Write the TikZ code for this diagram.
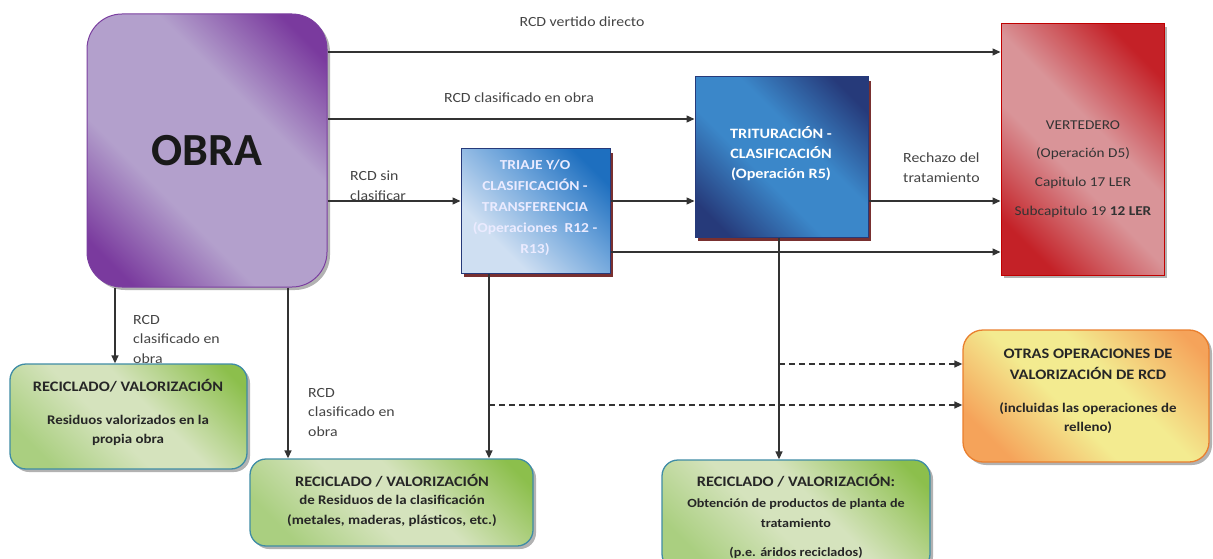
\documentclass[tikz,border=0pt]{standalone}
\usepackage{fontspec}
\setmainfont{Carlito}[FakeStretch=1.13]
\newfontfamily\obrafont{Carlito}
\usetikzlibrary{arrows.meta,shadows,calc}
\definecolor{ln}{HTML}{333333}
\definecolor{pD}{HTML}{7A3A9E}
\definecolor{pL}{HTML}{B3A0CC}
\definecolor{pB}{HTML}{7B3FA0}
\definecolor{tL}{HTML}{CFDFF2}
\definecolor{tM}{HTML}{6FA5DB}
\definecolor{tD}{HTML}{1E6FBF}
\definecolor{nD}{HTML}{263A7A}
\definecolor{nM}{HTML}{3B87C9}
\definecolor{rD}{HTML}{C42127}
\definecolor{rL}{HTML}{D99498}
\definecolor{rB}{HTML}{C00000}
\definecolor{gD}{HTML}{8CBF4C}
\definecolor{gM}{HTML}{AACF80}
\definecolor{gL}{HTML}{D5E3BD}
\definecolor{gB}{HTML}{3F8CA5}
\definecolor{oD}{HTML}{F5A35A}
\definecolor{oL}{HTML}{F3EB90}
\definecolor{oB}{HTML}{E97F2E}
\definecolor{shR}{HTML}{6A1A1A}
\definecolor{txt}{HTML}{444444}
\pgfdeclarehorizontalshading{shP}{100bp}{color(0bp)=(pD); color(21bp)=(pD); color(38bp)=(pL); color(62bp)=(pL); color(79bp)=(pD); color(100bp)=(pD)}
\pgfdeclarehorizontalshading{shT}{100bp}{color(0bp)=(tL); color(32bp)=(tL); color(56bp)=(tM); color(76bp)=(tD); color(100bp)=(tD)}
\pgfdeclarehorizontalshading{shN}{100bp}{color(0bp)=(nD); color(22bp)=(nD); color(42bp)=(nM); color(58bp)=(nM); color(78bp)=(nD); color(100bp)=(nD)}
\pgfdeclarehorizontalshading{shR}{100bp}{color(0bp)=(rD); color(24bp)=(rD); color(44bp)=(rL); color(56bp)=(rL); color(76bp)=(rD); color(100bp)=(rD)}
\pgfdeclarehorizontalshading{shG}{100bp}{color(0bp)=(gM); color(24bp)=(gM); color(44bp)=(gL); color(56bp)=(gL); color(80bp)=(gD); color(100bp)=(gD)}
\pgfdeclarehorizontalshading{shO}{100bp}{color(0bp)=(oD); color(24bp)=(oD); color(44bp)=(oL); color(58bp)=(oL); color(80bp)=(oD); color(100bp)=(oD)}
\begin{document}
\begin{tikzpicture}[x=1pt,y=-1pt,
  lbl/.style={font=\fontsize{14}{20}\selectfont, text=txt, align=left, inner sep=0pt},
  btxt/.style={font=\bfseries\fontsize{14.5}{20}\selectfont, text=black!85, align=center, inner sep=0pt},
  bsmall/.style={font=\bfseries\fontsize{13.2}{19}\selectfont, text=black!85, align=center, inner sep=0pt},
  wtxt/.style={font=\bfseries\fontsize{14.3}{20}\selectfont, text=white, align=center, inner sep=0pt},
  conn/.style={draw=ln, line width=1.4pt, -{Triangle[length=8pt,width=7pt]}},
  dconn/.style={conn, dash pattern=on 6pt off 4pt},
  box/.style={inner sep=0pt, line width=1pt, shading angle=45},
  gshadow/.style={drop shadow={shadow xshift=3pt, shadow yshift=-3pt, fill=black, opacity=0.3}},
  rshadow/.style={drop shadow={shadow xshift=3pt, shadow yshift=-4pt, fill=shR, opacity=0.9}},
  obrabox/.style={box, draw=pB, rounded corners=35pt, shading=shP, gshadow},
  triajebox/.style={box, draw=nD, shading=shT, rshadow},
  tritbox/.style={box, draw=nD, shading=shN, rshadow},
  vertbox/.style={box, draw=rB, shading=shR, gshadow},
  greenbox/.style={box, draw=gB, line width=1.3pt, rounded corners=16pt, shading=shG, gshadow},
  otrasbox/.style={box, draw=oB, line width=1.3pt, rounded corners=20pt, shading=shO, gshadow}
]
\useasboundingbox (0,0) rectangle (1213,559);
\clip (0,0) rectangle (1213,559);

% boxes
\node[obrabox, minimum width=240pt, minimum height=273pt, font=\obrafont\bfseries\fontsize{46}{50}\selectfont, text=black!90] (obra) at (207,150.5) {OBRA};
\node[triajebox, minimum width=149pt, minimum height=124pt] (triaje) at (535.5,211) {};
\node[tritbox, minimum width=173pt, minimum height=160pt] (trit) at (781.5,157) {};
\node[vertbox, minimum width=163pt, minimum height=251pt] (vert) at (1082.5,149.5) {};
\node[otrasbox, minimum width=246pt, minimum height=132pt] (otras) at (1086,396) {};
\node[greenbox, minimum width=237pt, minimum height=105pt] (rec1) at (128.5,416.5) {};
\node[greenbox, minimum width=283pt, minimum height=87pt] (rec2) at (391.5,502.5) {};
\node[greenbox, minimum width=268pt, minimum height=110pt] (rec3) at (796,515) {};

% box texts
\node[wtxt, font=\bfseries\fontsize{13.7}{21}\selectfont, text=white!92!blue] (triajeT) at (535,208) {TRIAJE Y/O\\CLASIFICACIÓN -\\TRANSFERENCIA\\(Operaciones~~R12 -\\R13)};
\node[wtxt] (tritT) at (781,154) {TRITURACIÓN -\\CLASIFICACIÓN\\(Operación R5)};
\node[font=\fontsize{13.5}{28.7}\selectfont, text=black!80, align=center, inner sep=0pt] (vertT) at (1083,169) {VERTEDERO\\(Operación D5)\\Capitulo 17 LER\\Subcapitulo 19 \textbf{12 LER}};
\node[btxt, font=\bfseries\fontsize{14.5}{21}\selectfont] (otrasT1) at (1088,364.5) {OTRAS OPERACIONES DE\\VALORIZACIÓN DE RCD};
\node[bsmall] (otrasT2) at (1088,418.5) {(incluidas las operaciones de\\relleno)};
\node[btxt] (rec1T1) at (128,386) {RECICLADO/ VALORIZACIÓN};
\node[bsmall] (rec1T2) at (128,430.5) {Residuos valorizados en la\\propia obra};
\node[btxt] (rec2T1) at (392,481) {RECICLADO / VALORIZACIÓN};
\node[bsmall, font=\bfseries\fontsize{13.2}{20}\selectfont] (rec2T2) at (392,511) {de Residuos de la clasificación\\(metales, maderas, plásticos, etc.)};
\node[btxt] (rec3T1) at (796,481) {RECICLADO / VALORIZACIÓN:};
\node[bsmall, font=\bfseries\fontsize{12.5}{20}\selectfont] (rec3T2) at (796,513) {Obtención de productos de planta de\\tratamiento};
\node[bsmall, font=\bfseries\fontsize{12.5}{20}\selectfont] (rec3T3) at (796,553) {(p.e. áridos reciclados)};

% connector labels
\node[lbl] (l1) at (582,22) {RCD vertido directo};
\node[lbl] (l2) at (519,98) {RCD clasificado en obra};
\node[lbl, anchor=west] (l3) at (350,186) {RCD sin\\clasificar};
\node[lbl, anchor=west] (l4) at (903,168) {Rechazo del\\tratamiento};
\node[lbl, anchor=west, font=\fontsize{14}{19.5}\selectfont] (l5) at (133,339.5) {RCD\\clasificado en\\obra};
\node[lbl, anchor=west, font=\fontsize{14}{19.5}\selectfont] (l6) at (308,412.5) {RCD\\clasificado en\\obra};

% reference coordinates
\coordinate (y52) at (0,52);
\coordinate (y119) at (0,119);
\coordinate (y201) at (0,201);
\coordinate (y252) at (0,252);
\coordinate (x115) at (115,0);
\coordinate (x288) at (288,0);
\coordinate (x489) at (489,0);
\coordinate (x779) at (779,0);
\coordinate (d1) at (779,364);
\coordinate (d2) at (489,405);

% connectors
\draw[conn] (obra.east |- y52) -- (vert.west |- y52);
\draw[conn] (obra.east |- y119) -- (trit.west |- y119);
\draw[conn] (obra.east |- y201) -- (triaje.west |- y201);
\draw[conn] (triaje.east |- y201) -- (trit.west |- y201);
\draw[conn] (trit.east |- y201) -- (vert.west |- y201);
\draw[conn] (triaje.east |- y252) -- (vert.west |- y252);
\draw[conn] (obra.south -| x115) -- (rec1.north -| x115);
\draw[conn] (obra.south -| x288) -- (rec2.north -| x288);
\draw[conn] (triaje.south -| x489) -- (rec2.north -| x489);
\draw[conn] (trit.south -| x779) -- (rec3.north -| x779);
\draw[dconn] (d1) -- (otras.west |- d1);
\draw[dconn] (d2) -- (otras.west |- d2);
\end{tikzpicture}
\end{document}
